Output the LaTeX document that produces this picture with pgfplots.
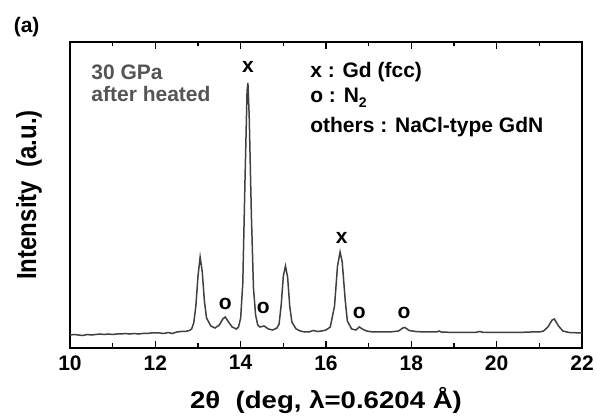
\documentclass[border=0pt]{standalone}
\usepackage{fontspec}
\setmainfont{Liberation Sans}
\usepackage{pgfplots}
\pgfplotsset{compat=1.18}
\usepackage{graphicx}
\definecolor{curve}{HTML}{404040}
\definecolor{note}{HTML}{555555}
\newcommand{\bigbf}{\fontsize{21}{25}\selectfont\bfseries}
\newcommand{\labbf}{\fontsize{24}{28}\selectfont\bfseries}
\begin{document}
\begin{tikzpicture}
\useasboundingbox (-70pt,-72pt) rectangle (527pt,348pt);
\begin{axis}[
  scale only axis, width=512pt, height=306pt,
  xmin=10, xmax=22, ymin=0, ymax=306,
  xtick={10,12,...,22}, minor x tick num=1,
  ytick=\empty, xtick pos=both, xticklabel pos=bottom,
  tick align=inside,
  major tick length=7pt, minor tick length=4.5pt,
  axis line style={line width=1.8pt},
  every tick/.style={black, line width=1.5pt},
  /pgf/number format/assume math mode=true,
  tick label style={font=\bigbf},
  xticklabel style={yshift=-4pt},
  xlabel={\scalebox{1.15}[1]{2θ\ \ (deg,\ λ=0.6204 Å)}},
  ylabel={\scalebox{1}[1.15]{Intensity\ \ (a.u.)}},
  label style={font=\labbf},
  xlabel style={at={(axis description cs:0.5,-0.172)}, anchor=center},
  ylabel style={at={(axis description cs:-0.080,0.5)}, anchor=center},
  clip=false
]
\addplot[curve, line width=1.5pt] coordinates {
(10.0,13)(10.1,13.5)(10.2,13)(10.3,12.5)(10.4,13.5)(10.5,13)(10.6,13.5)(10.7,14)
(10.8,13.5)(10.9,14)(11.0,13.5)(11.1,14)(11.2,14)(11.3,14.5)(11.4,14)(11.5,14.5)
(11.6,14)(11.7,14.5)(11.8,14.5)(11.9,15)(12.0,15)(12.1,15)(12.2,14.5)(12.3,15.5)
(12.4,14.5)(12.5,16)(12.6,16.5)(12.7,16.5)(12.8,17.5)(12.85,19)(12.9,25)
(12.95,42)(13.0,72)(13.05,91)(13.1,76)(13.15,47)(13.2,30)(13.3,22)(13.4,20)
(13.5,23)(13.58,29)(13.64,31)(13.7,27)(13.8,21)(13.9,19)(13.95,21)(14.0,30)
(14.05,65)(14.1,165)(14.15,257)(14.17,265)(14.2,232)(14.25,135)(14.3,60)
(14.35,33)(14.4,23)(14.45,21)(14.55,22)(14.65,19)(14.75,18)(14.85,20)(14.9,24)
(14.95,43)(15.0,72)(15.05,82)(15.1,71)(15.15,42)(15.2,26)(15.3,19)(15.4,17)
(15.5,16)(15.6,16)(15.7,17.5)(15.8,16.5)(15.9,17)(16.0,18)(16.1,21)(16.2,42)
(16.27,82)(16.33,96)(16.38,86)(16.45,48)(16.5,27)(16.6,19)(16.7,18)(16.78,21)
(16.85,19)(16.95,17)(17.1,16)(17.3,16)(17.5,16)(17.7,17)(17.8,20)(17.85,20.5)
(17.95,17.5)(18.1,16.5)(18.3,16)(18.6,16)(18.65,17)(18.7,16)(19.0,15.5)
(19.5,15.5)(19.6,16.5)(19.7,15.5)(20.0,15.5)(20.5,15.5)(20.8,16)(21.0,16)
(21.1,17)(21.2,21)(21.3,28)(21.35,29)(21.45,22)(21.55,17)(21.7,15.5)(22.0,15)};
\node[font=\bigbf] at (axis cs:14.17,281) {x};
\node[font=\bigbf] at (axis cs:16.37,110) {x};
\node[font=\bigbf] at (axis cs:13.64,44) {o};
\node[font=\bigbf] at (axis cs:14.53,40) {o};
\node[font=\bigbf] at (axis cs:16.78,35) {o};
\node[font=\bigbf] at (axis cs:17.83,35) {o};
\node[font=\bigbf, text=note, anchor=west] at (axis cs:10.42,276) {30 GPa};
\node[font=\bigbf, text=note, anchor=west] at (axis cs:10.42,254) {after heated};
\node[font=\bigbf, anchor=west] at (axis cs:15.55,276) {x : Gd (fcc)};
\node[font=\bigbf, anchor=west] at (axis cs:15.55,250) {o : N\raisebox{-0.25em}{\fontsize{14}{14}\selectfont 2}};
\node[font=\bigbf, anchor=west] at (axis cs:15.55,221) {others : NaCl-type GdN};
\node[font=\bigbf, anchor=west] at (axis cs:8.6,321) {(a)};
\end{axis}
\end{tikzpicture}
\end{document}
